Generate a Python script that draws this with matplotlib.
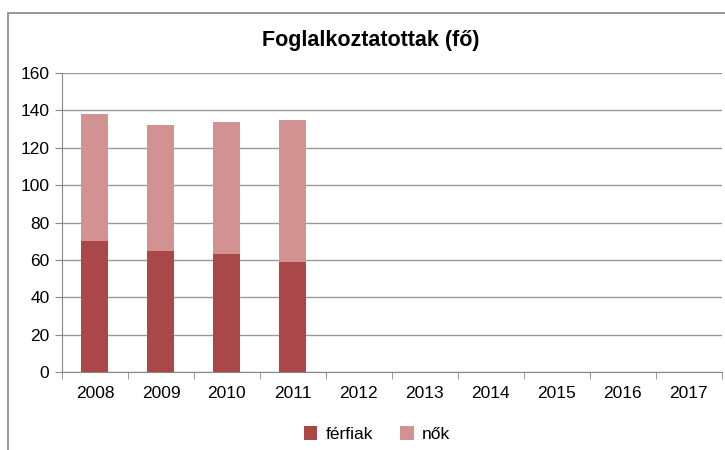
import matplotlib
matplotlib.use('Agg')
import matplotlib.pyplot as plt
from matplotlib.patches import Rectangle
import numpy as np

plt.rcParams['font.family'] = ['Liberation Sans', 'DejaVu Sans']

years = ['2008', '2009', '2010', '2011', '2012', '2013', '2014', '2015', '2016', '2017']
ferfiak = [70, 65, 63, 59, 0, 0, 0, 0, 0, 0]
nok = [68, 67, 71, 76, 0, 0, 0, 0, 0, 0]

fig = plt.figure(figsize=(7.25, 4.5), dpi=100)
ax = fig.add_axes([0.0855, 0.173, 0.91, 0.665])

x = np.arange(len(years))
ax.bar(x, ferfiak, width=0.41, color='#A94846', label='férfiak', zorder=3)
ax.bar(x, nok, width=0.41, bottom=ferfiak, color='#D39292', label='nők', zorder=3)

ax.set_xlim(-0.5, len(years) - 0.5)
ax.set_ylim(0, 160)
ax.set_yticks(range(0, 161, 20))
ax.set_xticks(x)
ax.set_xticklabels(years)
ax.set_xticks(np.arange(-0.5, len(years), 1), minor=True)
ax.tick_params(axis='x', which='major', length=0, labelsize=12.5, pad=10)
ax.tick_params(axis='x', which='minor', length=5, color='#888888')
ax.tick_params(axis='y', length=5, color='#888888', labelsize=12.5, pad=4)
ax.grid(axis='y', color='#999999', linewidth=1, zorder=0)
for s in ['top', 'right']:
    ax.spines[s].set_visible(False)
ax.spines['left'].set_color('#888888')
ax.spines['bottom'].set_color('#888888')

fig.text(0.512, 0.91, 'Foglalkoztatottak (fő)', ha='center', va='center', fontsize=15.5, fontweight='bold')

fig.legend(loc='center', bbox_to_anchor=(0.52, 0.035), ncol=2, frameon=False, fontsize=12.5,
           handlelength=0.8, handleheight=0.8, columnspacing=1.5, handletextpad=0.5)

fig.patches.append(Rectangle((8 / 725, -0.01), 1.0, 1 - 13 / 450 + 0.01, transform=fig.transFigure,
                             fill=False, edgecolor='#888888', linewidth=1.2))

fig.savefig('out.png', dpi=100)
